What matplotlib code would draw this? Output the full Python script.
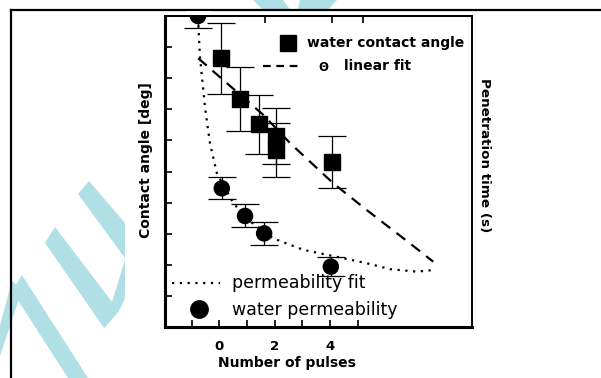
import numpy as np
import matplotlib
matplotlib.use("Agg")
import matplotlib.pyplot as plt
from matplotlib.patches import Polygon, Rectangle, Ellipse
from matplotlib.lines import Line2D

# water contact angle (squares)
contact_x = [0.05, 0.75, 1.45, 2.05, 2.05, 4.06]
contact_y = [8.64, 7.33, 6.52, 6.14, 5.69, 5.31]
contact_err = [1.15, 1.03, 0.95, 0.90, 0.86, 0.83]

# water permeability (circles)
perm_x = [-0.77, 0.09, 0.93, 1.62, 4.03]
perm_y = [10.0, 4.46, 3.57, 3.01, 1.94]
perm_err = [0.40, 0.35, 0.37, 0.37, 0.30]

# fits
lin_x = [-0.76, 0.39, 1.59, 2.56, 4.12, 5.33, 6.89, 7.73]
lin_y = [8.64, 7.75, 6.82, 5.91, 4.62, 3.76, 2.69, 2.10]
pfit_x = [-0.77, -0.70, -0.52, -0.34, -0.09, 0.51, 1.05, 1.95, 3.04, 4.12, 5.33, 6.17, 7.13, 7.73]
pfit_y = [9.95, 8.70, 7.08, 5.92, 4.95, 3.98, 3.44, 2.85, 2.48, 2.28, 2.05, 1.86, 1.78, 1.83]

xticks_major = [0, 2, 4]
xticks_minor = [-1, 1, 3, 5]
yticks = [1, 2, 3, 4, 5, 6, 7, 8, 9]
top_ticks = [-0.77, 1.65, 4.07, 5.19]

W, H = 601, 378
fig = plt.figure(figsize=(W / 100, H / 100), dpi=100, facecolor="white")


def px(x, y):
    # pixel coords (y down) -> figure fraction
    return (x / W, 1 - y / H)


# watermark strokes
wm = "#b0dfe5"
strokes = [
    [(78, 194), (89, 181), (142, 243), (130, 265)],
    [(45, 243), (55, 227), (119, 311), (104, 328)],
    [(104, 328), (119, 311), (142, 262), (128, 250)],
    [(12, 291), (22, 275), (88, 378), (68, 378)],
    [(-8, 355), (-8, 380), (22, 290), (12, 281)],
    [(253, 0), (283, 0), (292, 12), (265, 12)],
    [(300, 0), (337, 0), (326, 12), (297, 12)],
]
for s in strokes:
    fig.add_artist(Polygon([px(*p) for p in s], closed=True, transform=fig.transFigure,
                           facecolor=wm, edgecolor="none", zorder=-3))

# opaque chart image area
x0, y0 = px(125, 378)
fig.add_artist(Rectangle((x0, y0), 1 - x0, px(0, 10)[1] - y0, transform=fig.transFigure,
                         facecolor="white", edgecolor="none", zorder=-2))
# page frame
fig.add_artist(Line2D([px(11, 0)[0], 1], [px(0, 10)[1]] * 2, transform=fig.transFigure,
                      color="black", lw=1.6, zorder=-1))
fig.add_artist(Line2D([px(11, 0)[0]] * 2, [px(0, 10)[1], 0], transform=fig.transFigure,
                      color="black", lw=1.6, zorder=-1))

L, R, T, B = 165, 472, 16, 327
ax = fig.add_axes([L / W, 1 - B / H, (R - L) / W, (B - T) / H])
xlo, xhi = (L - 219.3) / 27.67, (R - 219.3) / 27.67
ax.set_xlim(xlo, xhi)
ax.set_ylim(0, 10)

# fits
ax.plot(lin_x, lin_y, color="black", lw=1.6, linestyle=(0, (5, 3.5)))
ax.plot(pfit_x, pfit_y, color="black", lw=1.6, linestyle=(0, (1, 2.5)))

# data
ax.errorbar(contact_x, contact_y, yerr=contact_err, fmt="s", color="black", ms=11.5,
            ecolor="black", elinewidth=0.9, capsize=10, capthick=0.9)
ax.errorbar(perm_x, perm_y, yerr=perm_err, fmt="none", ecolor="black",
            elinewidth=0.9, capsize=10, capthick=0.9)
# circles as patches so the top one is cut by the axes box
dpx = 16.5
w_data = dpx * (xhi - xlo) / (R - L)
h_data = dpx * 10 / (B - T)
for xv, yv in zip(perm_x, perm_y):
    ax.add_patch(Ellipse((xv, yv), w_data, h_data, facecolor="black", edgecolor="none", zorder=3))

# spines and ticks
for sp in ["left", "bottom"]:
    ax.spines[sp].set_linewidth(2.2)
for sp in ["right", "top"]:
    ax.spines[sp].set_linewidth(1.4)
ax.set_xticks(xticks_major)
ax.set_xticks(xticks_minor, minor=True)
ax.set_xticklabels([str(v) for v in xticks_major], fontsize=9.5, fontweight="bold")
ax.set_yticks(yticks)
ax.set_yticklabels([])
ax.tick_params(axis="both", which="both", direction="in", length=5, width=1.2)
ax.tick_params(axis="x", which="major", pad=9)

sec = ax.secondary_xaxis("top")
sec.set_xticks(top_ticks)
sec.tick_params(direction="in", length=5, width=1.2, labeltop=False)
sec.spines["top"].set_linewidth(1.4)

# keep the strip between page frame and axes top clean
fig.add_artist(Rectangle(px(186, 15.2), 25 / W, 3.9 / H, transform=fig.transFigure,
                         facecolor="white", edgecolor="none", zorder=5))

# axis labels
ax.text(0.396, -0.117, "Number of pulses", transform=ax.transAxes, ha="center", va="center",
        fontsize=10, fontweight="bold")
ax.text(-0.062, 0.537, "Contact angle [deg]", transform=ax.transAxes, ha="center", va="center",
        rotation=90, fontsize=10, fontweight="bold")
ax.text(1.041, 0.553, "Penetration time (s)", transform=ax.transAxes, ha="center", va="center",
        rotation=-90, fontsize=9.7, fontweight="bold")

# legend drawn by hand
ax.plot([0.401], [0.913], "s", color="black", ms=11.5, transform=ax.transAxes, clip_on=False)
ax.text(0.4635, 0.901, "water contact angle", transform=ax.transAxes, ha="left", va="baseline",
        fontsize=10, fontweight="bold")
ax.plot([0.319, 0.4495], [0.838, 0.838], color="black", lw=1.6, linestyle=(0, (3.5, 2.5)),
        transform=ax.transAxes)
ax.text(0.5156, 0.836, "\u0398", transform=ax.transAxes, ha="center", va="center",
        fontsize=8.5, fontweight="bold")
ax.text(0.583, 0.826, "linear fit", transform=ax.transAxes, ha="left", va="baseline",
        fontsize=10, fontweight="bold")
ax.plot([0.022, 0.179], [0.1424, 0.1424], color="black", lw=1.6, linestyle=(0, (1, 2.5)),
        transform=ax.transAxes)
ax.text(0.217, 0.1244, "permeability fit", transform=ax.transAxes, ha="left", va="baseline",
        fontsize=12.5)
ax.plot([0.1117], [0.0579], "o", color="black", ms=12.5, transform=ax.transAxes)
ax.text(0.217, 0.0386, "water permeability", transform=ax.transAxes, ha="left", va="baseline",
        fontsize=12.5)

fig.savefig("out.png", dpi=100, facecolor="white")
